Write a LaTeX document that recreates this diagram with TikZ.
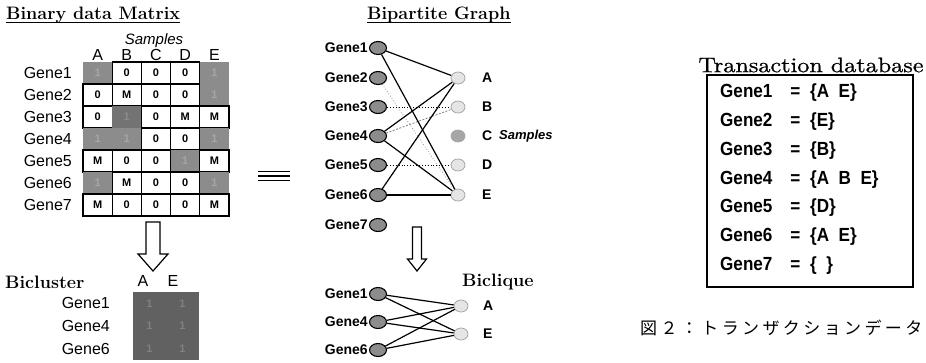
\documentclass[tikz,border=0pt]{standalone}
\usepackage{fontspec}
\newfontfamily\lsans{Liberation Sans}
\newfontfamily\cjk[LetterSpace=20]{Noto Sans CJK JP}
\newfontfamily\tdbfont[Extension=.otf, FakeBold=0.8]{lmroman10-regular}
\usetikzlibrary{shapes.geometric,calc}
\begin{document}
\begin{tikzpicture}[x=1pt,y=-1pt,
  ttl/.style={font=\fontsize{18}{18}\selectfont\bfseries, inner sep=0pt},
  ul/.style={line width=1.5pt},
  cellbase/.style={minimum width=29.2pt, minimum height=22pt, inner sep=0pt,
     font=\lsans\bfseries\fontsize{11}{11}\selectfont},
  wcell/.style={cellbase, draw=black, line width=1.3pt, fill=white},
  gcell/.style={cellbase, fill=black!45, text=black!35},
  dcell/.style={cellbase, fill=black!55, text=black!45},
  bcell/.style={minimum width=33pt, minimum height=22.7pt, inner sep=0pt, fill=black!62, text=black!50,
     font=\lsans\bfseries\fontsize{11}{11}\selectfont},
  mlab/.style={font=\lsans\fontsize{16}{16}\selectfont, inner sep=0pt},
  glab/.style={font=\lsans\bfseries\fontsize{14}{14}\selectfont, inner sep=0pt},
  gnode/.style={ellipse, draw=black, line width=1.1pt, fill=black!45, minimum width=17pt, minimum height=13pt, inner sep=0pt},
  snode/.style={ellipse, draw=black!35, line width=0.8pt, fill=black!10, minimum width=14pt, minimum height=12pt, inner sep=0pt},
  sdark/.style={snode, fill=black!35},
  edge/.style={line width=1.2pt, black},
  edgeT/.style={line width=2pt, black},
  dotl/.style={dotted, line width=0.9pt, black},
  faint/.style={dotted, line width=0.8pt, black!40},
  dashl/.style={dash pattern=on 2pt off 1.5pt, line width=0.8pt, black!50},
  harrow/.style={draw=black, line width=1.2pt, fill=white},
  tdbe/.style={font=\lsans\bfseries\fontsize{19}{19}\selectfont, inner sep=0pt, anchor=west, xscale=0.9}
]
\useasboundingbox (0,0) rectangle (926,362);

% ---------- Binary data matrix ----------
\node[ttl, anchor=west] (t1) at (6,15) {Binary data Matrix};
\draw[ul] ([yshift=-3pt]t1.base west) -- ([yshift=-3pt]t1.base east);
\node[font=\lsans\itshape\fontsize{15}{15}\selectfont, inner sep=0pt] (msamp) at (154,41) {Samples};
\foreach \L [count=\c from 0] in {A,B,C,D,E}
  \node[mlab] (mc\L) at (97.6+29.2*\c,55) {\L};

\foreach \r/\row in {
  1/{gcell/1,wcell/0,wcell/0,wcell/0,gcell/1},
  2/{wcell/0,wcell/M,wcell/0,wcell/0,gcell/1},
  3/{wcell/0,dcell/1,wcell/0,wcell/M,wcell/M},
  4/{gcell/1,gcell/1,wcell/0,wcell/0,gcell/1},
  5/{wcell/M,wcell/0,wcell/0,gcell/1,wcell/M},
  6/{gcell/1,wcell/M,wcell/0,wcell/0,gcell/1},
  7/{wcell/M,wcell/0,wcell/0,wcell/0,wcell/M}} {
  \node[mlab, anchor=east] (ml\r) at (72,51+22*\r) {Gene\r};
  \foreach \s/\t [count=\c from 0] in \row
    \node[\s] (m\r-\c) at (97.6+29.2*\c,51+22*\r) {\t};
}

% arrow down (left)
\draw[harrow] (146,222) -- (160,222) -- (160,254) -- (168,254) -- (153,271)
   -- (138,254) -- (146,254) -- cycle;

% Bicluster
\node[ttl, anchor=west] (bict) at (5,282) {Bicluster};
\node[mlab] (bA) at (143,281) {A};
\node[mlab] (bE) at (173,281) {E};
\foreach \g [count=\i from 0] in {1,4,6} {
  \node[mlab, anchor=east] (bl\g) at (110,303.3+22.7*\i) {Gene\g};
  \node[bcell] (b\g-A) at (149.5,303.3+22.7*\i) {1};
  \node[bcell] (b\g-E) at (182.5,303.3+22.7*\i) {1};
}

% equivalence sign
\foreach \yy in {171.5,176,180.5}
  \draw[line width=1.1pt] (258,\yy) -- (290,\yy);

% ---------- Bipartite graph ----------
\node[ttl, anchor=west] (t2) at (367,15) {Bipartite Graph};
\draw[ul] ([yshift=-3pt]t2.base west) -- ([yshift=-3pt]t2.base east);

\foreach \g/\yy in {1/48,2/78,3/107,4/136,5/165,6/195,7/225} {
  \node[gnode] (g\g) at (378,\yy) {};
  \node[glab, anchor=east] (gl\g) at ([xshift=-1pt]g\g.west) {Gene\g};
}
\foreach \S/\yy in {A/78,B/107,D/165,E/195} {
  \node[snode] (s\S) at (458,\yy) {};
  \node[glab, anchor=west] (sl\S) at (482,\yy) {\S};
}
\node[sdark] (sC) at (458,136) {};
\node[glab, anchor=west] (slC) at (482,136) {C};
\node[font=\lsans\itshape\bfseries\fontsize{13}{13}\selectfont, inner sep=0pt, anchor=west] (gsamp) at (499,136) {Samples};

\draw[faint] (g2) -- (sE);
\draw[dotl] (g3) -- (sB);
\draw[dashl] (g4) -- (sB);
\draw[dotl] (g5) -- (sD);
\draw[edge] (g1) -- (sA);
\draw[edge] (g1) -- (sE);
\draw[edge] (g4) -- (sA);
\draw[edge] (g4) -- (sE);
\draw[edge] (g6) -- (sA);
\draw[edgeT] (g6) -- (sE);

% arrow down (middle)
\draw[harrow] (412.5,227) -- (421.5,227) -- (421.5,259) -- (426.5,259) -- (417,271)
   -- (407.5,259) -- (412.5,259) -- cycle;

% Biclique
\node[ttl, anchor=west] (bqt) at (462,282) {Biclique};
\foreach \g/\yy in {1/294,4/322,6/350} {
  \node[gnode] (h\g) at (378,\yy) {};
  \node[glab, anchor=east] (hl\g) at ([xshift=-1pt]h\g.west) {Gene\g};
}
\node[snode] (qA) at (461,306) {};
\node[glab, anchor=west] (qlA) at (483,306) {A};
\node[snode] (qE) at (461,334) {};
\node[glab, anchor=west] (qlE) at (483,334) {E};
\foreach \g in {1,4,6} {
  \draw[edge] (h\g) -- (qA);
  \draw[edge] (h\g) -- (qE);
}

% ---------- Transaction database ----------
\node[font=\tdbfont\fontsize{21}{21}\selectfont, inner sep=0pt, xscale=1.15] (tdbt) at (811,65) {Transaction database};
\node[draw=black, line width=1.5pt, minimum width=206pt, minimum height=212pt, inner sep=0pt] (tdb) at (810,181) {};
\foreach \g/\set [count=\i from 0] in {1/{\{A\ \ E\}},2/{\{E\}},3/{\{B\}},4/{\{A\ \ B\ \ E\}},5/{\{D\}},6/{\{A\ \ E\}},7/{\{\ \ \}}}
  \node[tdbe] (tr\g) at (720,93+28.7*\i) {\makebox[78pt][l]{Gene\g}\makebox[22pt][l]{=}\set};

% caption
\node[font=\cjk\fontsize{17}{17}\selectfont, inner sep=0pt, anchor=west] (cap) at (640,328) {図２：トランザクションデータ};
\end{tikzpicture}
\end{document}
